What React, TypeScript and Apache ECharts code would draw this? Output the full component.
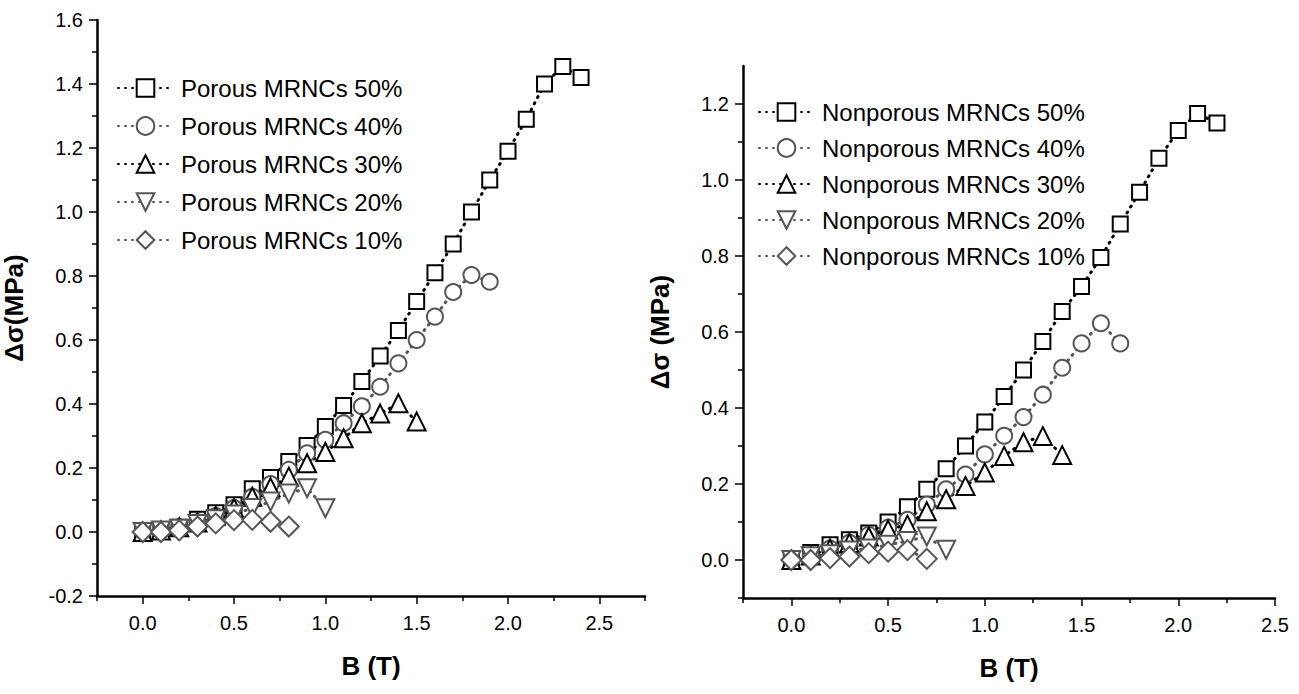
import React, { useEffect, useRef } from "react";
import * as echarts from "echarts";

const FONT = "'Liberation Sans', Arial, sans-serif";
const BLACK = "#000000";
const GRAY = "#555555";

// ---------- Left panel (Porous) ----------
const porousB50 = [0, 0.1, 0.2, 0.3, 0.4, 0.5, 0.6, 0.7, 0.8, 0.9, 1.0, 1.1, 1.2, 1.3, 1.4, 1.5, 1.6, 1.7, 1.8, 1.9, 2.0, 2.1, 2.2, 2.3, 2.4];
const porous50 = [0, 0.005, 0.015, 0.04, 0.06, 0.085, 0.135, 0.17, 0.22, 0.27, 0.33, 0.395, 0.47, 0.55, 0.63, 0.72, 0.81, 0.9, 1.0, 1.1, 1.19, 1.29, 1.4, 1.455, 1.42];
const porousB40 = [0, 0.1, 0.2, 0.3, 0.4, 0.5, 0.6, 0.7, 0.8, 0.9, 1.0, 1.1, 1.2, 1.3, 1.4, 1.5, 1.6, 1.7, 1.8, 1.9];
const porous40 = [0, 0.005, 0.015, 0.03, 0.05, 0.075, 0.11, 0.15, 0.194, 0.246, 0.288, 0.34, 0.393, 0.454, 0.527, 0.6, 0.673, 0.75, 0.803, 0.782];
const porousB30 = [0, 0.1, 0.2, 0.3, 0.4, 0.5, 0.6, 0.7, 0.8, 0.9, 1.0, 1.1, 1.2, 1.3, 1.4, 1.5];
const porous30 = [0, 0.005, 0.015, 0.03, 0.05, 0.075, 0.11, 0.14, 0.173, 0.215, 0.25, 0.293, 0.34, 0.37, 0.402, 0.345];
const porousB20 = [0, 0.1, 0.2, 0.3, 0.4, 0.5, 0.6, 0.7, 0.8, 0.9, 1.0];
const porous20 = [0, 0.005, 0.01, 0.025, 0.04, 0.055, 0.075, 0.095, 0.12, 0.137, 0.074];
const porousB10 = [0, 0.1, 0.2, 0.3, 0.4, 0.5, 0.6, 0.7, 0.8];
const porous10 = [0, 0, 0.005, 0.017, 0.027, 0.037, 0.038, 0.032, 0.017];

// ---------- Right panel (Nonporous) ----------
const nonB50 = [0, 0.1, 0.2, 0.3, 0.4, 0.5, 0.6, 0.7, 0.8, 0.9, 1.0, 1.1, 1.2, 1.3, 1.4, 1.5, 1.6, 1.7, 1.8, 1.9, 2.0, 2.1, 2.2];
const non50 = [0, 0.02, 0.04, 0.053, 0.071, 0.1, 0.14, 0.186, 0.24, 0.3, 0.363, 0.43, 0.5, 0.575, 0.654, 0.72, 0.796, 0.884, 0.968, 1.057, 1.13, 1.175, 1.15];
const nonB40 = [0, 0.1, 0.2, 0.3, 0.4, 0.5, 0.6, 0.7, 0.8, 0.9, 1.0, 1.1, 1.2, 1.3, 1.4, 1.5, 1.6, 1.7];
const non40 = [0, 0.012, 0.03, 0.045, 0.066, 0.085, 0.106, 0.146, 0.186, 0.225, 0.278, 0.327, 0.376, 0.435, 0.506, 0.57, 0.623, 0.57];
const nonB30 = [0, 0.1, 0.2, 0.3, 0.4, 0.5, 0.6, 0.7, 0.8, 0.9, 1.0, 1.1, 1.2, 1.3, 1.4];
const non30 = [0, 0.012, 0.03, 0.045, 0.062, 0.08, 0.093, 0.128, 0.16, 0.195, 0.23, 0.274, 0.31, 0.326, 0.276];
const nonB20 = [0, 0.1, 0.2, 0.3, 0.4, 0.5, 0.6, 0.7, 0.8];
const non20 = [0, 0.01, 0.015, 0.025, 0.03, 0.04, 0.05, 0.062, 0.027];
const nonB10 = [0, 0.1, 0.2, 0.3, 0.4, 0.5, 0.6, 0.7];
const non10 = [0, 0, 0.005, 0.009, 0.018, 0.022, 0.026, 0.003];

// ---------- Ticks ----------
const xMajor = [0, 0.5, 1.0, 1.5, 2.0, 2.5];
const xMinorLeft = [-0.25, 0.25, 0.75, 1.25, 1.75, 2.25, 2.75];
const xMinorRight = [-0.25, 0.25, 0.75, 1.25, 1.75, 2.25];
const yMajorLeft = [-0.2, 0, 0.2, 0.4, 0.6, 0.8, 1.0, 1.2, 1.4, 1.6];
const yMinorLeft = [-0.1, 0.1, 0.3, 0.5, 0.7, 0.9, 1.1, 1.3, 1.5];
const yMajorRight = [0, 0.2, 0.4, 0.6, 0.8, 1.0, 1.2];
const yMinorRight = [-0.1, 0.1, 0.3, 0.5, 0.7, 0.9, 1.1];

const leftNames = ["Porous MRNCs 50%", "Porous MRNCs 40%", "Porous MRNCs 30%", "Porous MRNCs 20%", "Porous MRNCs 10%"];
const rightNames = ["Nonporous MRNCs 50%", "Nonporous MRNCs 40%", "Nonporous MRNCs 30%", "Nonporous MRNCs 20%", "Nonporous MRNCs 10%"];

const fmt = (v: number) => v.toFixed(1);

function mkSeries(name: string, xs: number[], ys: number[], symbol: string, size: number, color: string, grid: number, rotate = 0) {
  return {
    type: "line",
    name,
    data: xs.map((x, i) => [x, ys[i]]),
    xAxisIndex: grid * 2,
    yAxisIndex: grid * 2,
    symbol,
    symbolSize: size,
    symbolRotate: rotate,
    showAllSymbol: true,
    lineStyle: { color, width: 3, type: [1, 6], cap: "round" },
    itemStyle: { color, borderColor: color, borderWidth: 2 },
    emphasis: { disabled: true },
  };
}

function xAxes(grid: number, min: number, max: number, minors: number[]) {
  return [
    {
      type: "value", gridIndex: grid, min, max, position: "bottom",
      axisLine: { show: true, onZero: false, lineStyle: { color: BLACK, width: 2.5 } },
      axisTick: { show: true, customValues: xMajor, length: 8, lineStyle: { color: BLACK, width: 1.5 } },
      axisLabel: { customValues: xMajor, formatter: fmt, fontSize: 20, fontFamily: FONT, color: BLACK, margin: 17 },
      splitLine: { show: false },
      name: "B (T)", nameLocation: "middle", nameGap: 57,
      nameTextStyle: { fontSize: 26, fontWeight: "bold", fontFamily: FONT, color: BLACK },
    },
    {
      type: "value", gridIndex: grid, min, max, position: "bottom",
      axisLine: { show: false, onZero: false },
      axisTick: { show: true, customValues: minors, length: 5, lineStyle: { color: BLACK, width: 1.5 } },
      axisLabel: { show: false },
      splitLine: { show: false },
    },
  ];
}

function yAxes(grid: number, min: number, max: number, majors: number[], minors: number[], title: string, gap: number) {
  return [
    {
      type: "value", gridIndex: grid, min, max, position: "left",
      axisLine: { show: true, onZero: false, lineStyle: { color: BLACK, width: 2.5 } },
      axisTick: { show: true, customValues: majors, length: 8, lineStyle: { color: BLACK, width: 1.5 } },
      axisLabel: { customValues: majors, formatter: fmt, fontSize: 20, fontFamily: FONT, color: BLACK, margin: 14 },
      splitLine: { show: false },
      name: title, nameLocation: "middle", nameGap: gap,
      nameTextStyle: { fontSize: 26, fontWeight: "bold", fontFamily: FONT, color: BLACK },
    },
    {
      type: "value", gridIndex: grid, min, max, position: "left",
      axisLine: { show: false, onZero: false },
      axisTick: { show: true, customValues: minors, length: 5, lineStyle: { color: BLACK, width: 1.5 } },
      axisLabel: { show: false },
      splitLine: { show: false },
    },
  ];
}

function legendFor(names: string[], left: number, top: number, gap: number) {
  return {
    data: names,
    orient: "vertical",
    left,
    top,
    itemWidth: 55,
    itemHeight: 22,
    itemGap: gap,
    selectedMode: false,
    textStyle: { fontSize: 24, fontFamily: FONT, color: BLACK, padding: [0, 0, 0, 3] },
  };
}

export default function App() {
  const ref = useRef<HTMLDivElement>(null);
  useEffect(() => {
    if (!ref.current) return;
    const chart = echarts.init(ref.current, undefined, { renderer: "svg" });
    chart.setOption({
      animation: false,
      backgroundColor: "#ffffff",
      grid: [
        { left: 97, top: 20, width: 548, height: 576 },
        { left: 743, top: 66, width: 532, height: 532 },
      ],
      xAxis: [...xAxes(0, -0.25, 2.75, xMinorLeft), ...xAxes(1, -0.25, 2.5, xMinorRight)],
      yAxis: [
        ...yAxes(0, -0.2, 1.6, yMajorLeft, yMinorLeft, "Δσ(MPa)", 70),
        ...yAxes(1, -0.1, 1.3, yMajorRight, yMinorRight, "Δσ (MPa)", 70),
      ],
      legend: [legendFor(leftNames, 112, 71, 14), legendFor(rightNames, 753, 95, 12)],
      series: [
        mkSeries(leftNames[0], porousB50, porous50, "emptyRect", 15, BLACK, 0),
        mkSeries(leftNames[1], porousB40, porous40, "emptyCircle", 16, GRAY, 0),
        mkSeries(leftNames[2], porousB30, porous30, "emptyTriangle", 18, BLACK, 0),
        mkSeries(leftNames[3], porousB20, porous20, "emptyTriangle", 18, GRAY, 0, 180),
        mkSeries(leftNames[4], porousB10, porous10, "emptyDiamond", 20, GRAY, 0),
        mkSeries(rightNames[0], nonB50, non50, "emptyRect", 15, BLACK, 1),
        mkSeries(rightNames[1], nonB40, non40, "emptyCircle", 16, GRAY, 1),
        mkSeries(rightNames[2], nonB30, non30, "emptyTriangle", 18, BLACK, 1),
        mkSeries(rightNames[3], nonB20, non20, "emptyTriangle", 18, GRAY, 1, 180),
        mkSeries(rightNames[4], nonB10, non10, "emptyDiamond", 20, GRAY, 1),
      ],
    });
    return () => chart.dispose();
  }, []);
  return (
    <div
      ref={ref}
      style={{ position: "fixed", left: 0, top: 0, width: 1299, height: 694, background: "#fff" }}
    />
  );
}
